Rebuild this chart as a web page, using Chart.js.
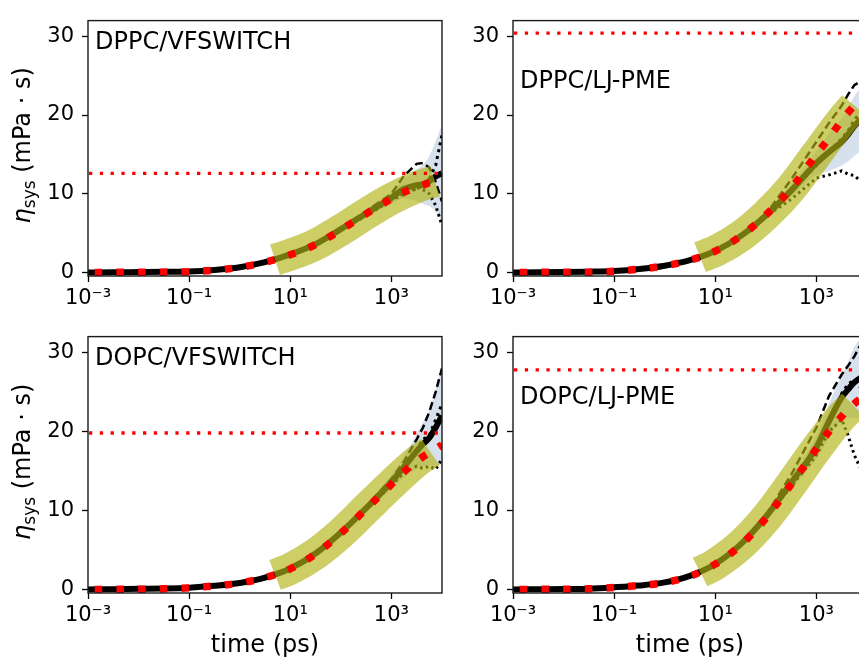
<!DOCTYPE html>
<html>
<head>
<meta charset="utf-8">
<script src="https://cdn.jsdelivr.net/npm/chart.js@4"></script>
<style>
  html, body { margin: 0; padding: 0; background: #fff; overflow: hidden; }
  body { width: 859px; height: 658px; position: relative; }
  canvas { position: absolute; }
</style>
</head>
<body>
<canvas id="p00" width="450" height="316" style="left:0px;top:0px"></canvas>
<canvas id="p01" width="450" height="316" style="left:430px;top:0px"></canvas>
<canvas id="p10" width="450" height="342" style="left:0px;top:316px"></canvas>
<canvas id="p11" width="450" height="342" style="left:430px;top:316px"></canvas>
<script>
// --- DATA ---
// sample times (ps), shared by fit / mean / std / replica curves
const times = [0.001, 0.00316, 0.01, 0.0316, 0.1, 0.316, 1, 3.16, 10, 31.6, 100, 316, 1000, 1778, 3162, 4217, 5623, 7499, 10000];
const xTickValues = [0.001, 0.1, 10, 1000];
const xTickLabels = ['10⁻³', '10⁻¹', '10¹', '10³'];
const yTickValues = [0, 10, 20, 30];

const panelNames = ['DPPC/VFSWITCH', 'DPPC/LJ-PME', 'DOPC/VFSWITCH', 'DOPC/LJ-PME'];
const plateaus = [12.6, 30.4, 19.8, 27.8];

// DPPC / VFSWITCH
const fitDppcVf  = [0, 0.01, 0.02, 0.04, 0.1, 0.3, 0.65, 1.3, 2.25, 3.55, 5.4, 7.45, 9.35, 10.2, 10.85, 11.1, 11.4, 11.6, 11.8];
const meanDppcVf = [0, 0.02, 0.05, 0.08, 0.12, 0.32, 0.67, 1.32, 2.3, 3.6, 5.5, 7.5, 9.5, 10.6, 11.1, 11.2, 11.6, 12.2, 12.6];
const stdDppcVf  = [0, 0, 0, 0, 0.02, 0.04, 0.06, 0.1, 0.15, 0.2, 0.3, 0.45, 0.8, 1.2, 2.0, 2.5, 3.2, 4.5, 6.2];
const run1DppcVf = [0, 0.02, 0.05, 0.08, 0.12, 0.32, 0.67, 1.32, 2.3, 3.6, 5.6, 7.8, 10.0, 12.3, 13.8, 13.9, 13.3, 11.5, 9.0];
const run2DppcVf = [0, 0.02, 0.05, 0.08, 0.12, 0.32, 0.67, 1.32, 2.3, 3.6, 5.4, 7.2, 9.2, 9.9, 10.8, 10.5, 10.0, 8.5, 6.0];
const run3DppcVf = [0, 0.02, 0.05, 0.08, 0.12, 0.32, 0.67, 1.32, 2.3, 3.6, 5.5, 7.5, 9.3, 10.2, 10.6, 11.0, 11.9, 13.6, 17.5];
const winTimesDppcVf = [5, 10, 31.6, 100, 316, 1000, 3162, 7244];
const winDppcVf      = [1.62, 2.25, 3.55, 5.4, 7.45, 9.35, 10.85, 11.6];

// DPPC / LJ-PME
const fitDppcLj  = [0, 0.01, 0.02, 0.04, 0.15, 0.42, 0.84, 1.56, 2.7, 4.6, 7.3, 10.7, 15.0, 17.1, 19.3, 20.3, 21.2, 22.0, 22.7];
const meanDppcLj = [0, 0.02, 0.05, 0.1, 0.18, 0.43, 0.86, 1.57, 2.72, 4.62, 7.25, 10.4, 13.9, 15.3, 16.6, 17.5, 18.6, 19.4, 20.0];
const stdDppcLj  = [0, 0, 0, 0, 0.02, 0.04, 0.06, 0.1, 0.15, 0.25, 0.4, 0.8, 1.5, 2.4, 3.0, 3.4, 3.8, 4.0, 4.2];
const run1DppcLj = [0, 0.02, 0.05, 0.1, 0.18, 0.43, 0.86, 1.57, 2.72, 4.62, 7.4, 11.8, 16.6, 19.0, 21.2, 22.6, 23.8, 24.3, 24.0];
const run2DppcLj = [0, 0.02, 0.05, 0.1, 0.18, 0.43, 0.86, 1.57, 2.72, 4.62, 7.1, 9.3, 12.0, 12.4, 12.9, 12.5, 12.3, 11.6, 12.0];
const run3DppcLj = [0, 0.02, 0.05, 0.1, 0.18, 0.43, 0.86, 1.57, 2.72, 4.62, 7.25, 10.3, 13.6, 15.4, 17.0, 18.0, 19.4, 20.3, 21.0];
const winTimesDppcLj = [5, 10, 31.6, 100, 316, 1000, 3162, 5623];
const winDppcLj      = [1.95, 2.7, 4.6, 7.3, 10.7, 15.0, 19.3, 21.2];

// DOPC / VFSWITCH
const fitDopcVf  = [0, 0.01, 0.03, 0.08, 0.2, 0.45, 0.81, 1.49, 2.6, 4.5, 7.1, 10.2, 13.3, 14.9, 16.2, 16.8, 17.3, 17.8, 18.3];
const meanDopcVf = [0, 0.03, 0.08, 0.12, 0.22, 0.46, 0.82, 1.5, 2.65, 4.55, 7.2, 10.3, 13.6, 15.5, 17.5, 18.4, 19.2, 20.5, 22.0];
const stdDopcVf  = [0, 0, 0, 0, 0.02, 0.04, 0.06, 0.1, 0.15, 0.2, 0.3, 0.5, 0.9, 1.4, 2.2, 2.8, 3.5, 4.8, 6.2];
const run1DopcVf = [0, 0.03, 0.08, 0.12, 0.22, 0.46, 0.82, 1.5, 2.65, 4.55, 7.3, 10.5, 14.0, 16.2, 19.0, 20.5, 22.5, 25.0, 28.0];
const run2DopcVf = [0, 0.03, 0.08, 0.12, 0.22, 0.46, 0.82, 1.5, 2.65, 4.55, 7.1, 10.1, 13.2, 14.8, 15.6, 15.3, 15.6, 15.2, 16.5];
const run3DopcVf = [0, 0.03, 0.08, 0.12, 0.22, 0.46, 0.82, 1.5, 2.65, 4.55, 7.2, 10.3, 13.6, 15.6, 17.8, 19.0, 19.5, 21.5, 23.5];
const winTimesDopcVf = [5, 10, 31.6, 100, 316, 1000, 3162, 5888];
const winDopcVf      = [1.85, 2.6, 4.5, 7.1, 10.2, 13.3, 16.2, 17.4];

// DOPC / LJ-PME
const fitDopcLj  = [0, 0.01, 0.03, 0.08, 0.25, 0.5, 0.88, 1.68, 3.2, 5.6, 9.0, 13.3, 17.8, 20.0, 21.9, 22.8, 23.5, 24.2, 24.8];
const meanDopcLj = [0, 0.03, 0.06, 0.1, 0.27, 0.5, 0.89, 1.72, 3.22, 5.7, 9.2, 13.5, 18.0, 21.3, 24.3, 25.3, 26.2, 26.8, 27.2];
const stdDopcLj  = [0, 0, 0, 0, 0.02, 0.04, 0.06, 0.1, 0.15, 0.25, 0.4, 0.8, 1.5, 2.2, 2.8, 3.5, 4.5, 5.0, 5.5];
const run1DopcLj = [0, 0.03, 0.06, 0.1, 0.27, 0.5, 0.89, 1.72, 3.22, 5.7, 9.4, 14.5, 20.5, 24.5, 27.2, 28.3, 29.5, 31.0, 32.5];
const run2DopcLj = [0, 0.03, 0.06, 0.1, 0.27, 0.5, 0.89, 1.72, 3.22, 5.7, 9.1, 13.0, 17.0, 20.0, 21.5, 19.5, 17.0, 15.3, 16.0];
const run3DopcLj = [0, 0.03, 0.06, 0.1, 0.27, 0.5, 0.89, 1.72, 3.22, 5.7, 9.2, 13.3, 17.8, 21.0, 24.8, 26.0, 26.5, 25.5, 26.0];
const winTimesDopcLj = [5, 10, 31.6, 100, 316, 1000, 3162, 5370];
const winDopcLj      = [2.2, 3.2, 5.6, 9.0, 13.3, 17.8, 21.9, 23.3];

const yTitleSymbol = 'η';
const yTitleSub = 'sys';
const yTitleUnit = ' (mPa · s)';
const xTitle = 'time (ps)';

// --- CHARTS ---
Chart.defaults.font.family = "'DejaVu Sans', sans-serif";
Chart.defaults.color = '#000';
Chart.defaults.elements.point.radius = 0;

function pts(xs, ys) {
    return xs.map((x, i) => ({ x: x, y: ys[i] }));
}

const panelDecor = {
    id: 'panelDecor',
    afterDatasetsDraw(chart, args, opts) {
        const a = chart.chartArea;
        const ctx = chart.ctx;
        ctx.save();
        ctx.strokeStyle = '#1a1a1a';
        ctx.lineWidth = 1.4;
        ctx.strokeRect(a.left, a.top, a.right - a.left, a.bottom - a.top);

        ctx.fillStyle = '#000';
        ctx.textAlign = 'left';
        ctx.textBaseline = 'alphabetic';
        ctx.font = "24px 'DejaVu Sans'";
        ctx.fillText(opts.name, a.left + 7, a.top + opts.nameDy);

        if (opts.yTitle) {
            const parts = [
                { text: yTitleSymbol, font: "italic 24px 'DejaVu Sans'", dy: 0 },
                { text: yTitleSub, font: "17px 'DejaVu Sans'", dy: 5 },
                { text: yTitleUnit, font: "24px 'DejaVu Sans'", dy: 0 }
            ];
            let total = 0;
            parts.forEach(p => { ctx.font = p.font; p.w = ctx.measureText(p.text).width; total += p.w; });
            ctx.translate(30, (a.top + a.bottom) / 2 - 3);
            ctx.rotate(-Math.PI / 2);
            let x = -total / 2;
            parts.forEach(p => { ctx.font = p.font; ctx.fillText(p.text, x, p.dy); x += p.w; });
        }
        ctx.restore();
    }
};

function makePanel(canvasId, p) {
    const ctx = document.getElementById(canvasId).getContext('2d');
    const upper = p.mean.map((m, i) => m + p.std[i]);
    const lower = p.mean.map((m, i) => m - p.std[i]);
    const runStyles = [
        { dash: [8, 4], width: 2.5 },
        { dash: [2.5, 3.5], width: 3 },
        { dash: [3, 4], width: 3 }
    ];

    const datasets = [
        { label: 'plateau', data: pts([0.001, 10000], [p.plateau, p.plateau]),
          borderColor: '#ff0000', borderWidth: 3.3, borderDash: [3.3, 7.5], borderDashOffset: 9.8, order: 0 },
        { label: 'fit', data: pts(times, p.fit), cubicInterpolationMode: 'monotone',
          borderColor: '#ff0000', borderWidth: 7.5, borderDash: [7.5, 14.2], borderDashOffset: 15, order: 1 },
        { label: 'fit window', data: pts(p.winTimes, p.win), cubicInterpolationMode: 'monotone',
          borderColor: 'rgba(178, 180, 20, 0.65)', borderWidth: 32, borderJoinStyle: 'round', order: 2 }
    ];
    p.runs.forEach((run, k) => {
        datasets.push({ label: 'run ' + (k + 1), data: pts(times, run),
            borderColor: '#000', borderWidth: runStyles[k].width, borderDash: runStyles[k].dash, order: 3 });
    });
    datasets.push(
        { label: 'mean', data: pts(times, p.mean), cubicInterpolationMode: 'monotone',
          borderColor: '#000', borderWidth: 6, order: 4 },
        { label: 'mean + std', data: pts(times, upper), cubicInterpolationMode: 'monotone',
          borderColor: 'rgba(0,0,0,0)', backgroundColor: 'rgba(176, 196, 222, 0.5)', fill: '+1', order: 5 },
        { label: 'mean - std', data: pts(times, lower), cubicInterpolationMode: 'monotone',
          borderColor: 'rgba(0,0,0,0)', order: 5 }
    );
    datasets.forEach(d => { d.clip = 0; });

    const tickGrid = { drawOnChartArea: false, drawTicks: true, tickLength: 6, tickWidth: 1.3, tickColor: '#000' };

    return new Chart(ctx, {
        type: 'line',
        data: { datasets: datasets },
        options: {
            responsive: false,
            animation: false,
            devicePixelRatio: 1,
            events: [],
            layout: { padding: { left: 0, top: 13, right: p.padRight, bottom: 0 } },
            plugins: {
                legend: { display: false },
                tooltip: { enabled: false },
                panelDecor: { name: p.name, nameDy: p.nameDy, yTitle: p.yTitle }
            },
            scales: {
                x: {
                    type: 'logarithmic', min: 0.001, max: 10000,
                    afterBuildTicks: s => { s.ticks = xTickValues.map(v => ({ value: v })); },
                    afterFit: s => { s.height = p.xAxisHeight; },
                    ticks: { callback: (v, i) => xTickLabels[i], autoSkip: false, maxRotation: 0, padding: 4, font: { size: 21 } },
                    grid: tickGrid,
                    border: { display: false },
                    title: { display: p.xTitle, text: xTitle, font: { size: 24, lineHeight: 1 }, padding: { top: 0, bottom: 0 } }
                },
                y: {
                    type: 'linear', min: -0.45, max: 32,
                    afterBuildTicks: s => { s.ticks = yTickValues.map(v => ({ value: v })); },
                    afterFit: s => { s.width = p.yAxisWidth; },
                    ticks: { padding: 8, font: { size: 21 } },
                    grid: tickGrid,
                    border: { display: false }
                }
            }
        },
        plugins: [panelDecor]
    });
}

makePanel('p00', { name: panelNames[0], nameDy: 28, plateau: plateaus[0], fit: fitDppcVf, mean: meanDppcVf, std: stdDppcVf,
    runs: [run1DppcVf, run2DppcVf, run3DppcVf], winTimes: winTimesDppcVf, win: winDppcVf,
    yTitle: true, xTitle: false, yAxisWidth: 88, padRight: 8, xAxisHeight: 40 });
makePanel('p01', { name: panelNames[1], nameDy: 67, plateau: plateaus[1], fit: fitDppcLj, mean: meanDppcLj, std: stdDppcLj,
    runs: [run1DppcLj, run2DppcLj, run3DppcLj], winTimes: winTimesDppcLj, win: winDppcLj,
    yTitle: false, xTitle: false, yAxisWidth: 83, padRight: 13, xAxisHeight: 40 });
makePanel('p10', { name: panelNames[2], nameDy: 28, plateau: plateaus[2], fit: fitDopcVf, mean: meanDopcVf, std: stdDopcVf,
    runs: [run1DopcVf, run2DopcVf, run3DopcVf], winTimes: winTimesDopcVf, win: winDopcVf,
    yTitle: true, xTitle: true, yAxisWidth: 88, padRight: 8, xAxisHeight: 65 });
makePanel('p11', { name: panelNames[3], nameDy: 67, plateau: plateaus[3], fit: fitDopcLj, mean: meanDopcLj, std: stdDopcLj,
    runs: [run1DopcLj, run2DopcLj, run3DopcLj], winTimes: winTimesDopcLj, win: winDopcLj,
    yTitle: false, xTitle: true, yAxisWidth: 83, padRight: 13, xAxisHeight: 65 });
</script>
</body>
</html>
